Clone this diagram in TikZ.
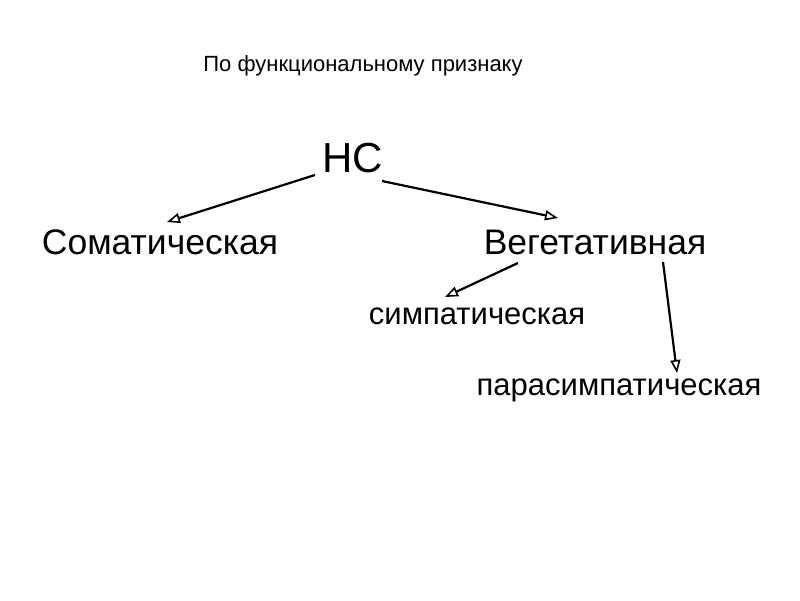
\documentclass[tikz,border=0pt]{standalone}
\usepackage{fontspec}
\setmainfont{Liberation Sans}
\usetikzlibrary{arrows.meta}
\begin{document}
\begin{tikzpicture}[x=1pt,y=-1pt,
  lbl/.style={inner sep=0pt, anchor=center},
  conn/.style={line width=2.2pt, -{Triangle[open, length=13pt, width=10pt, line width=1.6pt]}}]
\useasboundingbox[fill=white] (0,0) rectangle (800,600);
\node[lbl, font=\fontsize{22}{24}\selectfont] (title) at (363,66) {По функциональному признаку};
\node[lbl, font=\fontsize{42}{46}\selectfont] (ns) at (353,158) {НС};
\node[lbl, font=\fontsize{35.5}{38}\selectfont] (som) at (160,242) {Соматическая};
\node[lbl, font=\fontsize{35.5}{38}\selectfont] (veg) at (595,242) {Вегетативная};
\node[lbl, font=\fontsize{31}{34}\selectfont] (sym) at (477,316) {симпатическая};
\node[lbl, font=\fontsize{31}{34}\selectfont] (par) at (619,390) {парасимпатическая};
\coordinate (a1s) at (315,175); \coordinate (a1e) at (167,222);
\coordinate (a2s) at (382,181); \coordinate (a2e) at (558,218);
\coordinate (a3s) at (518,263); \coordinate (a3e) at (445,297);
\coordinate (a4s) at (663,262); \coordinate (a4e) at (677,373);
\draw[conn] (a1s) -- (a1e);
\draw[conn] (a2s) -- (a2e);
\draw[conn] (a3s) -- (a3e);
\draw[conn] (a4s) -- (a4e);
\end{tikzpicture}
\end{document}
